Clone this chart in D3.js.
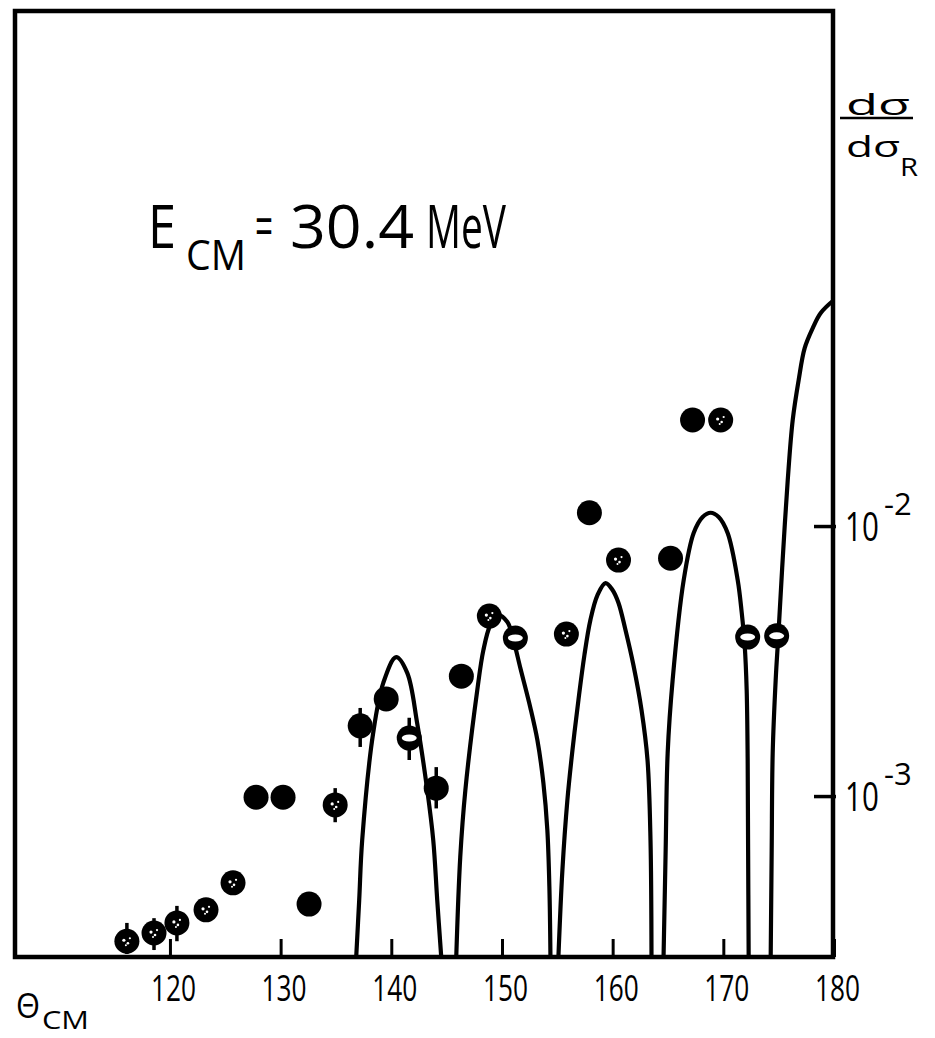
<!DOCTYPE html>
<html><head><meta charset="utf-8">
<script src="https://cdn.jsdelivr.net/npm/d3@7"></script>
<style>body{margin:0;background:#fff}svg{display:block}text{font-family:"Open Sans",sans-serif;fill:#000}</style>
</head><body>
<svg id="c" width="935" height="1038"></svg>
<script>
// ---- data ----
const xTicks = [120,130,140,150,160,170,180];
const yTicks = [1e-2, 1e-3];
const yTickExp = ["-2", "-3"];
const angle = [116.11,118.56,120.63,123.26,125.70,127.78,130.22,132.57,134.93,137.19,139.54,141.62,144.06,146.33,148.86,151.21,155.82,157.90,160.53,165.23,167.22,169.76,172.20,174.82];
const ratio = [2.90e-4,3.11e-4,3.39e-4,3.79e-4,4.77e-4,9.9e-4,9.9e-4,3.98e-4,9.27e-4,1.82e-3,2.29e-3,1.64e-3,1.07e-3,2.78e-3,4.64e-3,3.85e-3,3.98e-3,1.12e-2,7.48e-3,7.60e-3,2.47e-2,2.47e-2,3.88e-3,3.92e-3];
const errHi = [3.39e-4,3.53e-4,3.92e-4,null,null,null,null,null,1.07e-3,2.12e-3,null,1.95e-3,1.28e-3,null,null,null,null,null,null,null,null,null,null,null];
const errLo = [2.6e-4,2.69e-4,2.90e-4,null,null,null,null,null,8.0e-4,1.52e-3,null,1.36e-3,9.0e-4,null,null,null,null,null,null,null,null,null,null,null];
const kind = ["s","s","s","s","s","f","f","f","s","f","f","o","f","f","s","o","s","f","s","f","f","s","o","o"];
const arch1 = [[136.83,2.54e-4],[137.10,4.12e-4],[137.37,6.87e-4],[138.36,1.71e-3],[139.27,2.62e-3],[140.44,3.27e-3],[141.44,2.86e-3],[142.34,1.86e-3],[143.25,1.05e-3],[143.79,6.87e-4],[144.15,4.12e-4],[144.51,2.54e-4]];
const arch2 = [[145.87,2.54e-4],[146.23,5.94e-4],[146.69,1.05e-3],[147.77,2.47e-3],[148.32,3.47e-3],[148.95,4.30e-3],[149.67,4.68e-3],[150.49,4.41e-3],[151.03,3.79e-3],[151.66,2.98e-3],[152.57,2.12e-3],[153.20,1.61e-3],[153.74,1.12e-3],[154.10,7.48e-4],[154.29,4.49e-4],[154.38,2.54e-4]];
const arch3 = [[155.10,2.54e-4],[155.46,5.32e-4],[155.91,9.66e-4],[156.37,1.48e-3],[156.91,2.27e-3],[157.45,3.33e-3],[157.99,4.49e-3],[158.63,5.55e-3],[159.35,6.15e-3],[159.99,5.80e-3],[160.53,5.19e-3],[161.16,4.12e-3],[161.88,3.05e-3],[162.61,2.08e-3],[163.15,1.36e-3],[163.42,6.87e-4],[163.51,2.54e-4]];
const arch4 = [[164.60,2.54e-4],[164.79,6.31e-4],[164.97,1.44e-3],[165.42,2.69e-3],[166.42,6.31e-3],[167.32,9.42e-3],[168.13,1.08e-2],[168.85,1.12e-2],[169.58,1.08e-2],[170.39,9.42e-3],[171.30,6.31e-3],[171.66,4.79e-3],[171.93,3.62e-3],[172.11,2.47e-3],[172.20,1.36e-3],[172.24,6.31e-4],[172.29,2.54e-4]];
const arch5 = [[174.28,2.54e-4],[174.37,6.31e-4],[174.46,1.44e-3],[174.73,2.69e-3],[175.00,4.12e-3],[175.36,7.48e-3],[175.82,1.48e-2],[176.27,2.47e-2],[176.81,3.48e-2],[177.35,4.56e-2],[178.08,5.41e-2],[178.80,6.15e-2],[180.0,6.87e-2]];

// ---- layout ----
const L = 15, R = 833, T = 11, B = 957;
const svg = d3.select("#c");
const x = d3.scaleLinear().domain([106, 180]).range([L, 834]);
const y = d3.scaleLog().domain([2.535e-4, 0.808]).range([B, T]);

svg.append("rect").attr("width",935).attr("height",1038).attr("fill","#fff");
svg.append("clipPath").attr("id","clip").append("rect")
  .attr("x",L).attr("y",T).attr("width",R-L).attr("height",B-T);

// theory curve
const line = d3.line().x(d=>x(d[0])).y(d=>y(d[1])).curve(d3.curveCatmullRom.alpha(0.5));
svg.append("g").attr("clip-path","url(#clip)")
  .selectAll("path").data([arch1,arch2,arch3,arch4,arch5]).join("path")
  .attr("d",line).attr("fill","none").attr("stroke","#000").attr("stroke-width",4.2);

// bottom axis
const gx = svg.append("g").attr("transform",`translate(0,${B})`)
  .call(d3.axisBottom(x).tickValues(xTicks).tickSize(-18).tickFormat(d=>d));
gx.select(".domain").remove();
gx.selectAll(".tick line").attr("stroke","#000").attr("stroke-width",3);
gx.selectAll(".tick text").attr("fill","#000").attr("font-size",37).attr("y",44).attr("dy",0)
  .attr("dx",3).attr("textLength",45).attr("lengthAdjust","spacingAndGlyphs")
  .attr("font-family","'Open Sans',sans-serif");

// right axis ticks
const gy = svg.append("g").attr("transform",`translate(${R+3},0)`)
  .call(d3.axisLeft(y).tickValues(yTicks).tickSize(22).tickFormat(""));
gy.select(".domain").remove();
gy.selectAll(".tick line").attr("stroke","#000").attr("stroke-width",3.5);
yTicks.forEach((v,i)=>{
  const yy = y(v);
  svg.append("g").attr("transform",`translate(845,${yy+15}) scale(0.72,1)`)
    .append("text").attr("font-size",41).text("10");
  svg.append("g").attr("transform",`translate(884,${yy-11})`)
    .append("text").attr("font-size",31).text(yTickExp[i]);
});

// frame
svg.append("rect").attr("x",L).attr("y",T).attr("width",R-L).attr("height",B-T)
  .attr("fill","none").attr("stroke","#000").attr("stroke-width",4.5);

// error bars
const pts = angle.map((a,i)=>({a, v:ratio[i], lo:errLo[i], hi:errHi[i], k:kind[i]}));
svg.append("g").attr("clip-path","url(#clip)").selectAll("line").data(pts.filter(d=>d.hi!==null)).join("line")
  .attr("x1",d=>x(d.a)).attr("x2",d=>x(d.a)).attr("y1",d=>y(d.hi)).attr("y2",d=>y(d.lo))
  .attr("stroke","#000").attr("stroke-width",3.5);

// points
const gp = svg.append("g");
gp.selectAll("circle.p").data(pts).join("circle").attr("class","p")
  .attr("cx",d=>x(d.a)).attr("cy",d=>y(d.v)).attr("r",12.5).attr("fill","#000");
gp.selectAll("ellipse.o").data(pts.filter(d=>d.k==="o")).join("ellipse").attr("class","o")
  .attr("cx",d=>x(d.a)).attr("cy",d=>y(d.v)).attr("rx",7.5).attr("ry",3.5).attr("fill","#fff");
const speck = [[-3,-1,1.6],[1,2,1.3],[3,-3,1.1],[-1,4,1.0]];
pts.filter(d=>d.k==="s").forEach(d=>{
  gp.append("g").attr("transform",`translate(${x(d.a)},${y(d.v)})`)
    .selectAll("circle").data(speck).join("circle")
    .attr("cx",s=>s[0]).attr("cy",s=>s[1]).attr("r",s=>s[2]).attr("fill","#fff");
});

// labels
svg.append("text").attr("x",148).attr("y",248).attr("font-size",60).attr("textLength",28).attr("lengthAdjust","spacingAndGlyphs").text("E");
svg.append("text").attr("x",186).attr("y",270).attr("font-size",42).attr("textLength",60).attr("lengthAdjust","spacingAndGlyphs").text("CM");
svg.append("text").attr("x",255).attr("y",247).attr("font-size",58).attr("textLength",18).attr("lengthAdjust","spacingAndGlyphs").text("=");
svg.append("text").attr("x",290).attr("y",248).attr("font-size",60).attr("textLength",124).attr("lengthAdjust","spacingAndGlyphs").text("30.4");
svg.append("text").attr("x",426).attr("y",248).attr("font-size",60).attr("textLength",80).attr("lengthAdjust","spacingAndGlyphs").text("MeV");

svg.append("text").attr("x",846).attr("y",115).attr("font-size",30).attr("textLength",64).attr("lengthAdjust","spacingAndGlyphs").text("dσ");
svg.append("line").attr("x1",840).attr("x2",913).attr("y1",118).attr("y2",118).attr("stroke","#000").attr("stroke-width",2.5);
const den = svg.append("text").attr("x",846).attr("y",157).attr("font-size",30);
den.append("tspan").attr("textLength",54).attr("lengthAdjust","spacingAndGlyphs").text("dσ");
den.append("tspan").attr("x",900).attr("dy",19).attr("font-size",26).attr("textLength",18).attr("lengthAdjust","spacingAndGlyphs").text("R");

const th = svg.append("text").attr("x",16).attr("y",1018).attr("font-size",34);
th.append("tspan").attr("textLength",24).attr("lengthAdjust","spacingAndGlyphs").text("Θ");
th.append("tspan").attr("x",42).attr("dy",11).attr("font-size",25).attr("textLength",47).attr("lengthAdjust","spacingAndGlyphs").text("CM");
</script>
</body></html>
